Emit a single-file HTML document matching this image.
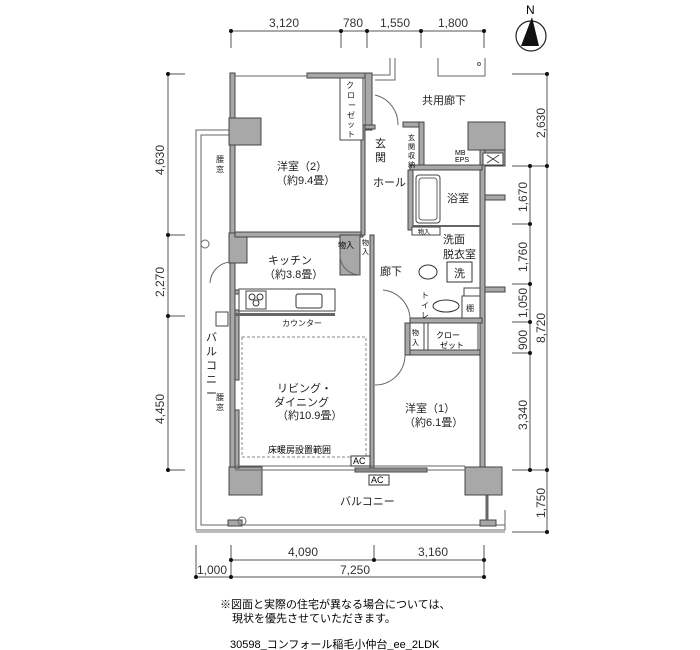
<!DOCTYPE html>
<html><head><meta charset="utf-8"><style>
body{margin:0;background:#fff;}
svg{display:block;font-family:"Liberation Sans","Noto Sans CJK JP",sans-serif;}
.w{fill:#a8a8a8;stroke:#444;stroke-width:1}
.t{font-size:11px;fill:#222}
.s{font-size:8px;fill:#222}
.d{font-size:12px;fill:#333}
.ln{stroke:#555;stroke-width:1;fill:none}
.th{stroke:#666;stroke-width:1;fill:none}
</style></head><body>
<svg width="700" height="650" viewBox="0 0 700 650">
<!-- top dims -->
<g class="ln"><line x1="231" y1="31" x2="484" y2="31"/>
<line x1="231" y1="31" x2="231" y2="48"/><line x1="341" y1="31" x2="341" y2="48"/><line x1="367" y1="31" x2="367" y2="48"/><line x1="421" y1="31" x2="421" y2="48"/><line x1="484" y1="31" x2="484" y2="48"/></g>
<g fill="#111"><circle cx="231" cy="31" r="2"/><circle cx="341" cy="31" r="2"/><circle cx="367" cy="31" r="2"/><circle cx="421" cy="31" r="2"/><circle cx="484" cy="31" r="2"/></g>
<text class="d" x="269" y="27">3,120</text><text class="d" x="343" y="27">780</text><text class="d" x="380" y="27">1,550</text><text class="d" x="438" y="27">1,800</text>
<!-- north -->
<circle cx="531" cy="36" r="15" fill="#fff" stroke="#222" stroke-width="1.2"/>
<polygon points="532,17 521,46 539,46" fill="#111"/>
<text x="526" y="14" font-size="12">N</text>
<!-- left dims -->
<g class="ln"><line x1="168" y1="74" x2="168" y2="470"/><line x1="168" y1="74" x2="185" y2="74"/><line x1="168" y1="235" x2="185" y2="235"/><line x1="168" y1="316" x2="185" y2="316"/><line x1="168" y1="470" x2="185" y2="470"/></g>
<g fill="#111"><circle cx="168" cy="74" r="2"/><circle cx="168" cy="235" r="2"/><circle cx="168" cy="316" r="2"/><circle cx="168" cy="470" r="2"/></g>
<text class="d" transform="translate(164,175) rotate(-90)">4,630</text>
<text class="d" transform="translate(164,297) rotate(-90)">2,270</text>
<text class="d" transform="translate(164,424) rotate(-90)">4,450</text>
<!-- right dims -->
<g class="ln"><line x1="547" y1="74" x2="547" y2="532"/><line x1="530" y1="166" x2="530" y2="470"/>
<line x1="512" y1="74" x2="547" y2="74"/><line x1="512" y1="166" x2="547" y2="166"/><line x1="512" y1="224" x2="530" y2="224"/><line x1="512" y1="284" x2="530" y2="284"/><line x1="512" y1="322" x2="530" y2="322"/><line x1="512" y1="353" x2="530" y2="353"/><line x1="512" y1="470" x2="547" y2="470"/><line x1="512" y1="532" x2="547" y2="532"/></g>
<g fill="#111"><circle cx="547" cy="74" r="2"/><circle cx="547" cy="166" r="2"/><circle cx="547" cy="470" r="2"/><circle cx="547" cy="532" r="2"/><circle cx="530" cy="166" r="2"/><circle cx="530" cy="224" r="2"/><circle cx="530" cy="284" r="2"/><circle cx="530" cy="322" r="2"/><circle cx="530" cy="353" r="2"/><circle cx="530" cy="470" r="2"/></g>
<text class="d" transform="translate(545,138) rotate(-90)">2,630</text>
<text class="d" transform="translate(527,212) rotate(-90)">1,670</text>
<text class="d" transform="translate(527,272) rotate(-90)">1,760</text>
<text class="d" transform="translate(527,318) rotate(-90)">1,050</text>
<text class="d" transform="translate(527,350) rotate(-90)">900</text>
<text class="d" transform="translate(545,343) rotate(-90)">8,720</text>
<text class="d" transform="translate(527,430) rotate(-90)">3,340</text>
<text class="d" transform="translate(545,518) rotate(-90)">1,750</text>
<!-- bottom dims -->
<g class="ln"><line x1="231" y1="560" x2="484" y2="560"/><line x1="196" y1="577" x2="484" y2="577"/>
<line x1="196" y1="545" x2="196" y2="577"/><line x1="231" y1="545" x2="231" y2="577"/><line x1="374" y1="545" x2="374" y2="560"/><line x1="484" y1="545" x2="484" y2="577"/></g>
<g fill="#111"><circle cx="231" cy="560" r="2"/><circle cx="374" cy="560" r="2"/><circle cx="484" cy="560" r="2"/><circle cx="196" cy="577" r="2"/><circle cx="231" cy="577" r="2"/><circle cx="484" cy="577" r="2"/></g>
<text class="d" x="288" y="556">4,090</text><text class="d" x="418" y="556">3,160</text>
<text class="d" x="197" y="574">1,000</text><text class="d" x="340" y="574">7,250</text>
<!-- balcony frame -->
<path class="th" d="M230,130 H196 V530 H505 V510"/>
<path class="th" d="M230,135 H201 V525 H505"/>
<rect x="196" y="530" width="309" height="3" fill="#bbb"/>
<rect x="228" y="520" width="14" height="6" class="w"/><rect x="480" y="520" width="16" height="6" class="w"/>
<line x1="487" y1="495" x2="487" y2="520" stroke="#666" stroke-width="3"/>
<circle cx="205" cy="244" r="4" fill="none" stroke="#666"/><circle cx="242" cy="521" r="4" fill="none" stroke="#666"/>
<!-- outside corridor lines top -->
<path class="th" d="M370,75 H390 V58 M375,80 H395 V58"/>
<path class="th" d="M438,58 V76 H485 V58"/>
<circle cx="479" cy="64" r="1.5" fill="none" stroke="#666"/>
<!-- walls -->
<g class="w">
<rect x="230" y="73" width="5" height="397"/>
<rect x="307" y="73" width="65" height="5"/>
<rect x="365" y="73" width="7" height="57"/>
<rect x="229" y="118" width="32" height="27"/>
<rect x="229" y="233" width="18" height="30"/>
<rect x="235" y="232" width="128" height="5"/>
<rect x="361" y="125" width="4" height="110"/>
<rect x="365" y="125" width="10" height="4"/>
<rect x="403" y="122" width="20" height="5"/>
<rect x="419" y="122" width="5" height="48"/>
<rect x="468" y="122" width="37" height="28"/>
<rect x="480" y="150" width="5" height="318"/>
<rect x="485" y="150" width="20" height="16"/>
<rect x="410" y="165" width="72" height="5"/>
<rect x="408" y="170" width="5" height="60"/>
<rect x="485" y="195" width="20" height="5"/>
<rect x="485" y="287" width="20" height="5"/>
<rect x="410" y="318" width="72" height="5"/>
<rect x="405" y="323" width="5" height="32"/>
<rect x="410" y="350" width="70" height="5"/>
<rect x="370" y="235" width="4" height="235"/>
<rect x="340" y="235" width="20" height="40"/>
<rect x="235" y="290" width="100" height="4"/>
<rect x="229" y="467" width="33" height="28"/>
<rect x="465" y="467" width="37" height="28"/>
<rect x="355" y="468" width="72" height="4"/>
<rect x="235" y="310" width="4" height="70"/>
<rect x="235" y="410" width="4" height="58"/>
</g>
<!-- windows/thin lines -->
<g class="th"><line x1="235" y1="470" x2="465" y2="470"/><line x1="235" y1="466" x2="465" y2="466"/>
<line x1="235" y1="76" x2="307" y2="76"/></g>
<!-- closet (2) -->
<rect x="340" y="78" width="23" height="62" fill="#fff" stroke="#444"/>
<text class="s" x="346" y="88">ク</text><text class="s" x="347" y="98">ロ</text><text class="s" x="348" y="108">ー</text><text class="s" x="347" y="118">ゼ</text><text class="s" x="347" y="127">ッ</text><text class="s" x="347" y="137">ト</text>
<!-- bath -->
<rect x="416" y="175" width="24" height="48" rx="3" fill="#fff" stroke="#444"/>
<rect x="419" y="178" width="18" height="42" rx="3" fill="none" stroke="#666"/>
<rect x="413" y="225" width="67" height="2" fill="#666"/>
<rect x="412" y="227" width="28" height="8" fill="#fff" stroke="#444"/>
<text x="418" y="234" font-size="6">物入</text>
<ellipse cx="428" cy="272" rx="9" ry="7" fill="#fff" stroke="#333"/>
<rect x="447" y="262" width="25" height="20" fill="#fff" stroke="#333"/>
<rect x="464" y="288" width="16" height="8" fill="#fff" stroke="#444"/>
<ellipse cx="446" cy="306" rx="13" ry="6" fill="#fff" stroke="#333"/>
<rect x="462" y="296" width="18" height="22" fill="#fff" stroke="#444"/>
<rect x="410" y="323" width="14" height="27" fill="#fff" stroke="#444"/>
<rect x="428" y="323" width="50" height="27" fill="#fff" stroke="#444"/>
<rect x="483" y="153" width="20" height="12" fill="#fff" stroke="#444"/>
<path d="M487,155 L499,163 M499,155 L487,163" stroke="#444"/>
<!-- kitchen -->
<rect x="239" y="289" width="96" height="22" fill="#fff" stroke="#444"/>
<rect x="246" y="291" width="20" height="18" fill="#fff" stroke="#444"/>
<circle cx="252" cy="297" r="3" fill="none" stroke="#333"/><circle cx="260" cy="297" r="3" fill="none" stroke="#333"/><circle cx="256" cy="303" r="3" fill="none" stroke="#333"/>
<rect x="296" y="294" width="26" height="14" rx="2" fill="#fff" stroke="#333"/>
<rect x="235" y="313" width="100" height="3" fill="#666"/>
<rect x="216" y="312" width="12" height="14" fill="#fff" stroke="#444"/>
<!-- floor heating -->
<rect x="242" y="337" width="124" height="120" fill="none" stroke="#888" stroke-dasharray="3,2"/>
<rect x="351" y="456" width="19" height="10" fill="#fff" stroke="#333"/><text x="353" y="464" font-size="9">AC</text>
<rect x="369" y="475" width="20" height="10" fill="#fff" stroke="#333"/><text x="371" y="483" font-size="9">AC</text>
<!-- doors -->
<g class="th"><path d="M375,95 A30,30 0 0 1 398,125"/><path d="M360,275 A20,20 0 0 1 340,255"/><path d="M383,290 A30,30 0 0 1 410,318"/><path d="M375,385 A30,30 0 0 0 405,355"/><path d="M210,283 A22,22 0 0 1 230,262"/></g>
<!-- labels -->
<text class="t" x="422" y="104">共用廊下</text>
<text class="t" x="277" y="170">洋室（2）</text><text class="t" x="276" y="184">（約9.4畳）</text>
<text class="t" x="375" y="147">玄</text><text class="t" x="375" y="161">関</text>
<text x="408" y="140" font-size="7">玄</text><text x="408" y="149" font-size="7">関</text><text x="408" y="158" font-size="7">収</text><text x="408" y="167" font-size="7">納</text>
<text x="455" y="155" font-size="7">MB</text><text x="455" y="162" font-size="7">EPS</text>
<text class="t" x="373" y="186">ホール</text>
<text class="t" x="447" y="202">浴室</text>
<text class="t" x="443" y="243">洗面</text><text class="t" x="443" y="258">脱衣室</text>
<text class="t" x="454" y="277">洗</text>
<text class="t" x="380" y="275">廊下</text>
<text class="s" x="421" y="298">ト</text><text class="s" x="421" y="308">イ</text><text class="s" x="421" y="318">レ</text>
<text class="s" x="466" y="311">棚</text>
<text x="412" y="335" font-size="7">物</text><text x="412" y="345" font-size="7">入</text>
<text x="436" y="338" font-size="8">クロー</text><text x="440" y="348" font-size="8">ゼット</text>
<text x="338" y="248" font-size="8">物入</text>
<text x="362" y="245" font-size="7">物</text><text x="362" y="254" font-size="7">入</text>
<text class="t" x="268" y="264">キッチン</text><text class="t" x="264" y="278">（約3.8畳）</text>
<text class="s" x="282" y="326" font-size="9">カウンター</text>
<text class="t" x="277" y="392">リビング・</text><text class="t" x="274" y="406">ダイニング</text><text class="t" x="277" y="419">（約10.9畳）</text>
<text x="268" y="453" font-size="9">床暖房設置範囲</text>
<text class="t" x="405" y="412">洋室（1）</text><text class="t" x="404" y="426">（約6.1畳）</text>
<text class="t" x="340" y="505">バルコニー</text>
<text class="t" x="206" y="341">バ</text><text class="t" x="206" y="355">ル</text><text class="t" x="206" y="369">コ</text><text class="t" x="206" y="383">ニ</text><text class="t" x="206" y="397">ー</text>
<text class="s" x="216" y="162">腰</text><text class="s" x="216" y="172">窓</text>
<text class="s" x="216" y="400">腰</text><text class="s" x="216" y="410">窓</text>
<text x="220" y="608" font-size="11">※図面と実際の住宅が異なる場合については、</text>
<text x="232" y="622" font-size="11">現状を優先させていただきます。</text>
<text x="230" y="648" font-size="11">30598_コンフォール稲毛小仲台_ee_2LDK</text>
</svg>
</body></html>
